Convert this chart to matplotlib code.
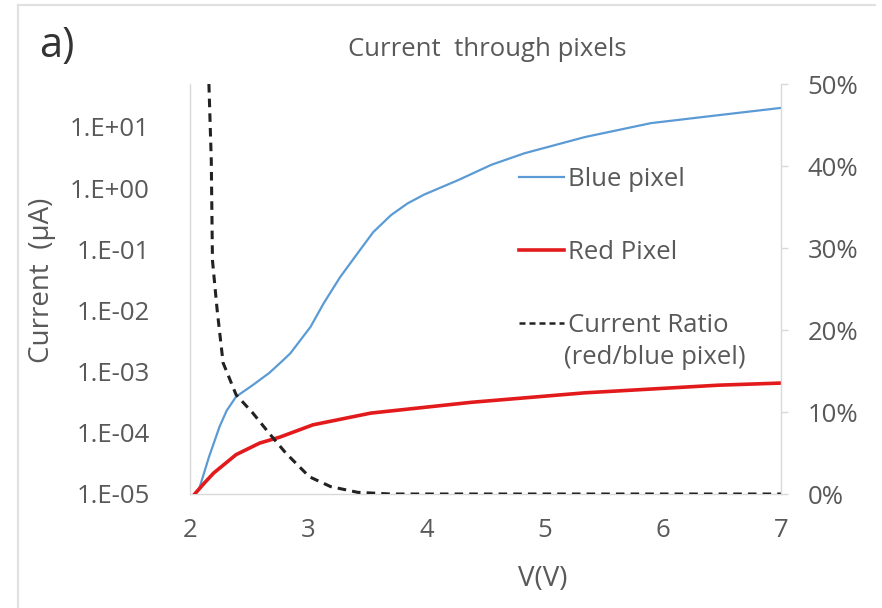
import numpy as np
import matplotlib
matplotlib.use("Agg")
import matplotlib.pyplot as plt
from matplotlib.lines import Line2D
from matplotlib.ticker import FixedLocator, FuncFormatter

plt.rcParams['font.family'] = ['Open Sans', 'DejaVu Sans']

# Blue pixel current (uA) vs voltage
v_blue = [2.04, 2.08, 2.16, 2.25, 2.31, 2.39, 2.53, 2.67, 2.79, 2.85, 3.02,
          3.13, 3.27, 3.42, 3.55, 3.70, 3.84, 3.98, 4.27, 4.55, 4.83, 5.34,
          5.90, 6.47, 7.00]
i_blue = [1.0e-5, 1.26e-5, 4.0e-5, 1.26e-4, 2.3e-4, 3.9e-4, 6.0e-4, 9.5e-4,
          1.55e-3, 2.0e-3, 5.4e-3, 1.3e-2, 3.5e-2, 8.7e-2, 0.19, 0.36, 0.56,
          0.78, 1.35, 2.4, 3.7, 6.8, 11.5, 15.5, 20.4]

# Red pixel current (uA) vs voltage
v_red = [2.04, 2.12, 2.20, 2.39, 2.59, 2.76, 3.04, 3.53, 4.38, 5.34, 6.47, 7.00]
i_red = [1.0e-5, 1.5e-5, 2.2e-5, 4.4e-5, 6.8e-5, 8.5e-5, 1.35e-4, 2.1e-4,
         3.15e-4, 4.5e-4, 6.0e-4, 6.5e-4]

# Current ratio red/blue (%)
v_ratio = [2.16, 2.18, 2.19, 2.23, 2.28, 2.39, 2.53, 2.67, 2.81, 3.01, 3.19,
           3.42, 3.70, 4.50, 5.50, 6.50, 7.00]
ratio = [50.0, 40.7, 28.5, 22.4, 16.0, 12.1, 9.9, 7.4, 5.0, 2.1, 0.9,
         0.2, 0.0, 0.0, 0.0, 0.0, 0.0]

x_ticks = [2, 3, 4, 5, 6, 7]
y_ticks = [1e-5, 1e-4, 1e-3, 1e-2, 1e-1, 1e0, 1e1]
y_tick_labels = ["1.E-05", "1.E-04", "1.E-03", "1.E-02", "1.E-01", "1.E+00", "1.E+01"]
r_ticks = [0, 10, 20, 30, 40, 50]

text_col = "#595959"
spine_col = "#d9d9d9"
blue = "#5b9bd5"
red = "#e31a1c"
fs = 18.5

W, H = 882, 608
fig = plt.figure(figsize=(W / 100, H / 100), dpi=100)
ax = fig.add_axes([190 / W, 1 - 494 / H, (781 - 190) / W, (494 - 84) / H])
ax2 = ax.twinx()

ax.plot(v_blue, i_blue, color=blue, lw=1.6, zorder=3)
ax.plot(v_red, i_red, color=red, lw=2.6, zorder=3)
ax2.plot(v_ratio, ratio, color="#222222", lw=2.2, ls=(0, (2.8, 2.0)), zorder=2)

ax.set_yscale("log")
ax.set_xlim(2, 7)
ax.set_ylim(1e-5, 10 ** 1.7)
ax2.set_ylim(0, 50)

ax.xaxis.set_major_locator(FixedLocator(x_ticks))
ax.yaxis.set_major_locator(FixedLocator(y_ticks))
ax.yaxis.set_minor_locator(FixedLocator([]))
ax.set_yticklabels(y_tick_labels)
ax2.yaxis.set_major_locator(FixedLocator(r_ticks))
ax2.yaxis.set_major_formatter(FuncFormatter(lambda v, p: f"{v:.0f}%"))

for a in (ax, ax2):
    for s in a.spines.values():
        s.set_color(spine_col)
        s.set_linewidth(1.0)
    a.spines["top"].set_visible(False)

ax.spines["right"].set_visible(False)
ax2.spines["left"].set_visible(False)
ax2.spines["bottom"].set_visible(False)

ax.tick_params(axis="y", length=0, labelsize=fs, labelcolor=text_col, pad=29)
ax.tick_params(axis="x", length=0, labelsize=fs, labelcolor=text_col, pad=17)
ax2.tick_params(axis="y", length=5, width=1, color=spine_col, labelsize=fs,
                labelcolor=text_col, pad=14)

# axis titles
fig.text(543 / W, 1 - 579 / H, "V(V)", fontsize=20, color=text_col,
         ha="center", va="center")
fig.text(42 / W, 1 - 280 / H, "Current  (µA)", fontsize=20, color=text_col,
         ha="center", va="center", rotation=90)

fig.text(487 / W, 1 - 49 / H, "Current  through pixels", fontsize=fs,
         color=text_col, ha="center", va="center")
fig.text(57 / W, 1 - 46 / H, "a)", fontsize=30, color="#333333",
         ha="center", va="center")

handles = [Line2D([], [], color=blue, lw=1.6),
           Line2D([], [], color=red, lw=2.6),
           Line2D([], [], color="#222222", lw=1.8, ls=(0, (2.4, 1.6)))]
labels = ["Blue pixel", "Red Pixel", "Current Ratio"]
leg = ax.legend(handles, labels, loc="upper left",
                bbox_to_anchor=((519 - 190) / (781 - 190), (494 - 167) / (494 - 84)),
                frameon=False, fontsize=fs, labelcolor=text_col,
                handlelength=1.75, handletextpad=0.15, labelspacing=1.86,
                borderpad=0, borderaxespad=0)
fig.text(564 / W, 1 - 358 / H, "(red/blue pixel)", fontsize=fs,
         color=text_col, ha="left", va="center")

# outer chart border (top and left edges)
fig.add_artist(Line2D([18 / W, 18 / W], [0, 1 - 5 / H], transform=fig.transFigure,
                      color="#e0e0e0", lw=1.5))
fig.add_artist(Line2D([18 / W, 875 / W], [1 - 5 / H, 1 - 5 / H],
                      transform=fig.transFigure, color="#e0e0e0", lw=1.5))

fig.savefig("out.png", dpi=100)
